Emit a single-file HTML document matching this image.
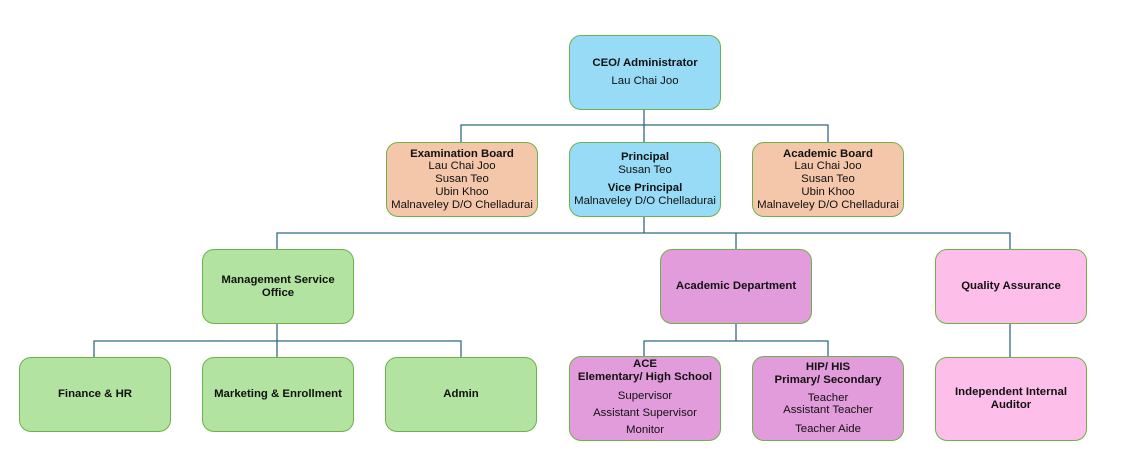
<!DOCTYPE html>
<html><head><style>
body{margin:0;width:1143px;height:467px;background:#fff;position:relative;font-family:"Liberation Sans",Arial,sans-serif;color:#111;overflow:hidden}
.b{position:absolute;box-sizing:border-box;border:1.3px solid #6cb24a;border-radius:12px;display:flex;flex-direction:column;justify-content:center;align-items:center;text-align:center;font-size:11.4px;line-height:12.8px;white-space:nowrap}
.t{font-weight:bold}
.bl{background:#97dbf7}.pe{background:#f5c7aa}.gr{background:#b3e3a0}.pu{background:#e29cdb}.pk{background:#fdbee9}
svg{position:absolute;left:0;top:0}
</style></head><body>
<svg width="1143" height="467"><g stroke="#2f6a84" stroke-width="1.3" fill="none">
<path d="M644 109V142M461 142V125H828V142"/>
<path d="M644 217V233M277 249V233H1010V249M736 233V249"/>
<path d="M277 324V341M94 357V341H461V357M277 341V357"/>
<path d="M736 324V341M644 356V341H828V356"/>
<path d="M1010 324V357"/>
</g></svg>
<div class="b bl" style="left:569px;top:35px;width:152px;height:75px"><div class="t">CEO/ Administrator</div><div style="margin-top:5px">Lau Chai Joo</div></div>
<div class="b pe" style="left:386px;top:142px;width:152px;height:75px"><div class="t">Examination Board</div><div>Lau Chai Joo<br>Susan Teo<br>Ubin Khoo<br>Malnaveley D/O Chelladurai</div></div>
<div class="b bl" style="left:569px;top:142px;width:152px;height:75px"><div class="t">Principal</div><div>Susan Teo</div><div class="t" style="margin-top:5px">Vice Principal</div><div>Malnaveley D/O Chelladurai</div></div>
<div class="b pe" style="left:752px;top:142px;width:152px;height:75px"><div class="t">Academic Board</div><div>Lau Chai Joo<br>Susan Teo<br>Ubin Khoo<br>Malnaveley D/O Chelladurai</div></div>
<div class="b gr" style="left:202px;top:249px;width:152px;height:75px"><div class="t">Management Service<br>Office</div></div>
<div class="b pu" style="left:660px;top:249px;width:152px;height:75px"><div class="t">Academic Department</div></div>
<div class="b pk" style="left:935px;top:249px;width:152px;height:75px"><div class="t">Quality Assurance</div></div>
<div class="b gr" style="left:19px;top:357px;width:152px;height:75px"><div class="t">Finance &amp; HR</div></div>
<div class="b gr" style="left:202px;top:357px;width:152px;height:75px"><div class="t">Marketing &amp; Enrollment</div></div>
<div class="b gr" style="left:385px;top:357px;width:152px;height:75px"><div class="t">Admin</div></div>
<div class="b pu" style="left:569px;top:356px;width:152px;height:85px;justify-content:flex-start;padding-top:1px"><div class="t">ACE<br>Elementary/ High School</div><div style="margin-top:4px;line-height:17px">Supervisor<br>Assistant Supervisor<br>Monitor</div></div>
<div class="b pu" style="left:752px;top:356px;width:152px;height:85px"><div class="t">HIP/ HIS<br>Primary/ Secondary</div><div style="margin-top:5px">Teacher<br>Assistant Teacher</div><div style="margin-top:6px">Teacher Aide</div></div>
<div class="b pk" style="left:935px;top:357px;width:152px;height:84px"><div class="t">Independent Internal<br>Auditor</div></div>
</body></html>
